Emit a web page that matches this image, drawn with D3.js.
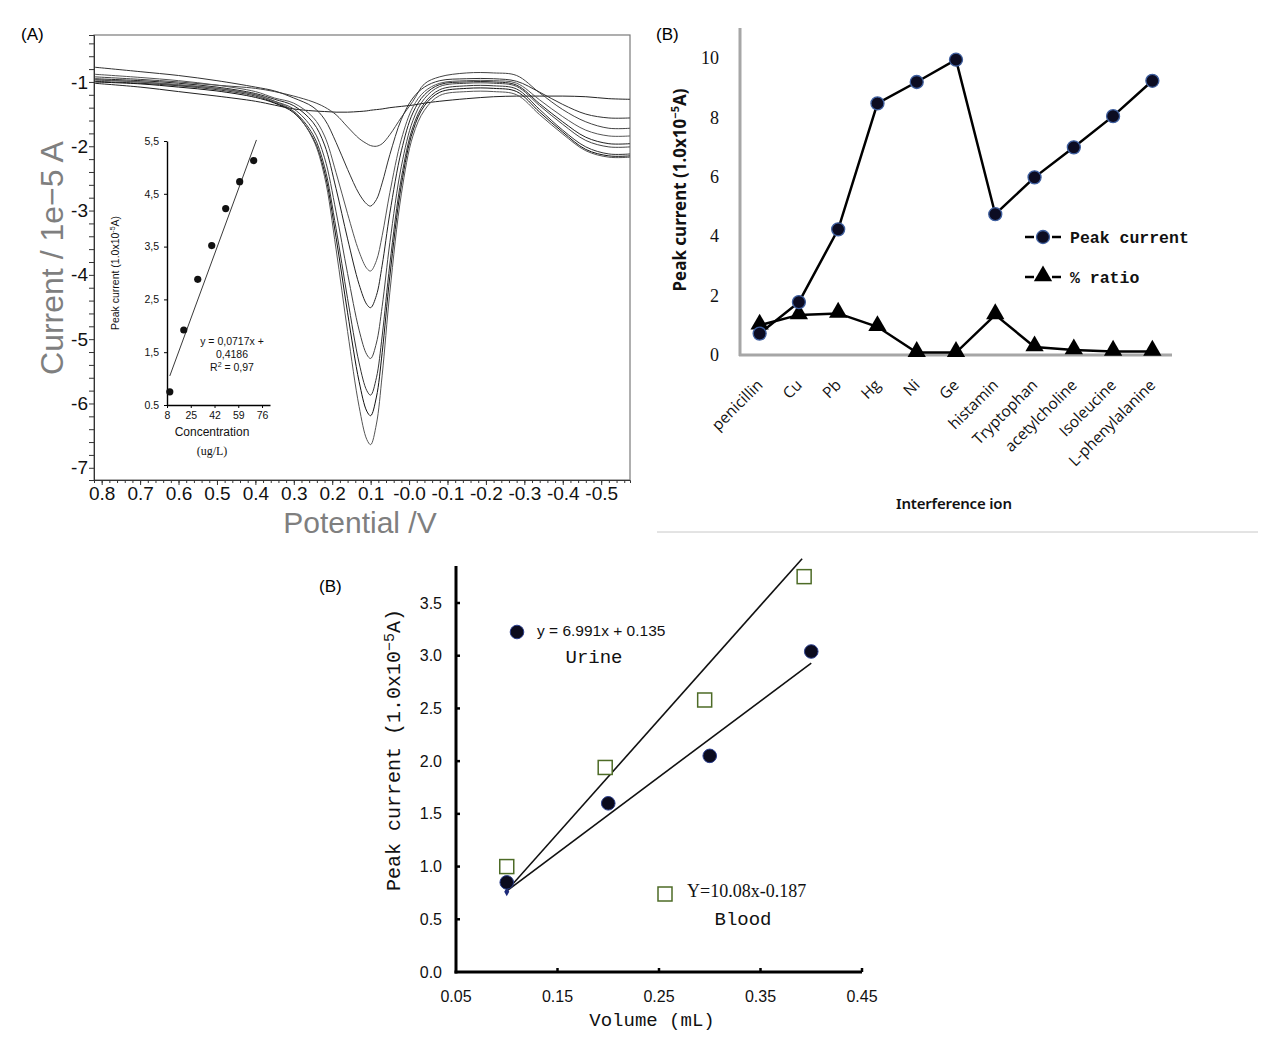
<!DOCTYPE html>
<html><head><meta charset="utf-8">
<script src="https://cdn.jsdelivr.net/npm/d3@7"></script>
<style>body{margin:0;background:#fff}</style>
</head><body><svg id="c" width="1273" height="1042" xmlns="http://www.w3.org/2000/svg"></svg>
<script>
// ---------------- DATA ----------------
// Panel A: voltammograms (potential in V, current in 1e-5 A)
const potentials = [0.82, 0.7, 0.6, 0.5, 0.4, 0.35, 0.30, 0.25, 0.22, 0.19, 0.16, 0.13, 0.11, 0.10, 0.085, 0.07, 0.05, 0.02, -0.01, -0.04, -0.08, -0.15, -0.22, -0.28, -0.34, -0.40, -0.46, -0.52, -0.575];
const curve1 = [-1.02, -1.08, -1.15, -1.22, -1.30, -1.36, -1.42, -1.45, -1.46, -1.47, -1.47, -1.46, -1.45, -1.44, -1.43, -1.42, -1.40, -1.38, -1.36, -1.33, -1.30, -1.26, -1.23, -1.22, -1.22, -1.22, -1.23, -1.26, -1.27];
const curve2 = [-0.92, -0.96, -1.0, -1.05, -1.1, -1.15, -1.22, -1.31, -1.39, -1.51, -1.70, -1.88, -1.96, -1.99, -2.0, -1.96, -1.82, -1.55, -1.30, -1.03, -0.92, -0.86, -0.86, -0.90, -1.17, -1.43, -1.62, -1.72, -1.72];
const curve3 = [-0.77, -0.84, -0.9, -0.98, -1.08, -1.14, -1.25, -1.39, -1.58, -1.94, -2.36, -2.74, -2.90, -2.93, -2.83, -2.57, -2.13, -1.58, -1.25, -1.08, -0.98, -0.95, -0.95, -0.99, -1.16, -1.35, -1.50, -1.56, -1.56];
const curve4 = [-0.88, -0.93, -0.98, -1.05, -1.15, -1.25, -1.33, -1.55, -1.84, -2.41, -3.05, -3.64, -3.90, -3.94, -3.78, -3.39, -2.72, -1.89, -1.39, -1.15, -1.02, -0.98, -0.98, -1.02, -1.28, -1.54, -1.75, -1.84, -1.84];
const curve5 = [-0.95, -0.98, -1.02, -1.08, -1.18, -1.27, -1.37, -1.63, -1.98, -2.66, -3.44, -4.15, -4.46, -4.51, -4.32, -3.85, -3.04, -2.07, -1.48, -1.20, -1.04, -1.0, -1.0, -1.05, -1.34, -1.62, -1.86, -1.96, -1.96];
const curve6 = [-0.97, -1.0, -1.05, -1.1, -1.2, -1.3, -1.42, -1.74, -2.18, -3.02, -3.98, -4.86, -5.24, -5.30, -5.06, -4.49, -3.50, -2.31, -1.60, -1.26, -1.07, -1.02, -1.02, -1.07, -1.37, -1.66, -1.91, -2.01, -2.01];
const curve7 = [-0.99, -1.02, -1.06, -1.12, -1.22, -1.32, -1.46, -1.82, -2.32, -3.28, -4.37, -5.37, -5.80, -5.87, -5.60, -4.95, -3.83, -2.49, -1.70, -1.33, -1.12, -1.06, -1.06, -1.11, -1.43, -1.75, -2.01, -2.12, -2.12];
const curve8 = [-1.0, -1.03, -1.08, -1.14, -1.24, -1.33, -1.48, -1.87, -2.40, -3.42, -4.59, -5.66, -6.12, -6.19, -5.90, -5.21, -4.02, -2.60, -1.76, -1.37, -1.16, -1.1, -1.1, -1.15, -1.47, -1.78, -2.05, -2.15, -2.15];
const curve9 = [-0.96, -1.0, -1.04, -1.1, -1.2, -1.3, -1.46, -1.89, -2.47, -3.60, -4.88, -6.05, -6.56, -6.64, -6.32, -5.56, -4.27, -2.74, -1.84, -1.44, -1.21, -1.15, -1.15, -1.2, -1.51, -1.81, -2.07, -2.17, -2.17];
const curveColors = ["#222", "#444", "#333", "#555", "#222", "#444", "#333", "#111", "#555"];
const aYTicks = [-1, -2, -3, -4, -5, -6, -7];
const aXTicks = [0.8, 0.7, 0.6, 0.5, 0.4, 0.3, 0.2, 0.1, 0.0, -0.1, -0.2, -0.3, -0.4, -0.5];
const aXTickLabels = ["0.8", "0.7", "0.6", "0.5", "0.4", "0.3", "0.2", "0.1", "-0.0", "-0.1", "-0.2", "-0.3", "-0.4", "-0.5"];

// Panel A inset: calibration
const insetConc = [10, 20, 30, 40, 50, 60, 70];
const insetPeak = [0.75, 1.92, 2.88, 3.52, 4.22, 4.73, 5.13];
const insetFit = [[10, 1.05], [72, 5.52]];
const insetXTicks = [8, 25, 42, 59, 76];
const insetYTicks = [0.5, 1.5, 2.5, 3.5, 4.5, 5.5];
const insetYTickLabels = ["0.5", "1,5", "2,5", "3,5", "4,5", "5,5"];

// Panel B (top right): interference
const ions = ["penicillin", "Cu", "Pb", "Hg", "Ni", "Ge", "histamin", "Tryptophan", "acetylcholine", "Isoleucine", "L-phenylalanine"];
const peakCurrent = [0.72, 1.78, 4.23, 8.47, 9.19, 9.94, 4.74, 5.98, 6.99, 8.04, 9.23];
const pctRatio = [1.0, 1.35, 1.4, 0.95, 0.08, 0.08, 1.35, 0.27, 0.17, 0.12, 0.12];
const bYTicks = [0, 2, 4, 6, 8, 10];

// Bottom panel: standard addition
const bloodVol = [0.1, 0.197, 0.295, 0.393];
const blood = [1.0, 1.94, 2.58, 3.75];
const urineVol = [0.1, 0.2, 0.3, 0.4];
const urine = [0.85, 1.60, 2.05, 3.04];
const bloodFit = [[0.1, 0.77], [0.391, 3.92]];
const urineFit = [[0.1, 0.77], [0.4, 2.93]];
const originPoint = [0.1, 0.76];
const cYTicks = [0, 0.5, 1.0, 1.5, 2.0, 2.5, 3.0, 3.5];
const cXTicks = [0.05, 0.15, 0.25, 0.35, 0.45];

// ---------------- DRAW ----------------
const svg = d3.select("#c");
svg.append("rect").attr("width", 1273).attr("height", 1042).attr("fill", "#fff");

// ===== Panel A =====
const xA = d3.scaleLinear().domain([0.82, -0.575]).range([94, 630]);
const yA = d3.scaleLinear().domain([-0.27, -7.19]).range([35, 480]);
const gA = svg.append("g");
gA.append("text").attr("x", 21).attr("y", 40).attr("font-family", "Liberation Sans, Arial").attr("font-size", 17).text("(A)");

gA.append("rect").attr("x", 94).attr("y", 35).attr("width", 536).attr("height", 445)
  .attr("fill", "none").attr("stroke", "#7a7a7a").attr("stroke-width", 1.2);

const curves = [curve1, curve2, curve3, curve4, curve5, curve6, curve7, curve8, curve9];
const lineA = d3.line().x(d => xA(d[0])).y(d => yA(d[1])).curve(d3.curveCatmullRom.alpha(0.5));
curves.forEach((c, i) => {
  gA.append("path").datum(potentials.map((p, j) => [p, c[j]]))
    .attr("d", lineA).attr("fill", "none").attr("stroke", curveColors[i]).attr("stroke-width", 1);
});

const yMinor = d3.range(-7.2, -0.25, 0.2).map(v => Math.round(v * 10) / 10).filter(v => v >= -7.19 && v <= -0.27);
const axAL = d3.axisLeft(yA).tickValues(yMinor).tickSize(5).tickFormat(d => aYTicks.includes(d) ? "-" + Math.abs(d) : "");
const gAy = gA.append("g").attr("transform", "translate(94,0)").call(axAL);
gAy.select(".domain").attr("stroke", "#333");
gAy.selectAll(".tick line").attr("stroke", "#333");
gAy.selectAll("text").attr("font-family", "Liberation Sans, Arial").attr("font-size", 19).attr("fill", "#111").attr("x", -6);

const xMinor = d3.range(0, 70).map(i => Math.round((0.82 - 0.02 * i) * 100) / 100).filter(v => v >= -0.575);
const axAB = d3.axisBottom(xA).tickValues(xMinor).tickSize(3).tickFormat("");
const gAxm = gA.append("g").attr("transform", "translate(0,480)").call(axAB);
gAxm.select(".domain").attr("stroke", "#333");
gAxm.selectAll(".tick line").attr("stroke", "#333");
const axAB2 = d3.axisBottom(xA).tickValues(aXTicks).tickSize(5).tickPadding(2).tickFormat((d, i) => aXTickLabels[i]);
const gAx = gA.append("g").attr("transform", "translate(0,480)").call(axAB2);
gAx.select(".domain").remove();
gAx.selectAll(".tick line").attr("stroke", "#333");
gAx.selectAll("text").attr("font-family", "Liberation Sans, Arial").attr("font-size", 19).attr("fill", "#111");

gA.append("text").attr("transform", "translate(63,258) rotate(-90)").attr("text-anchor", "middle")
  .attr("font-family", "Liberation Sans, Arial").attr("font-size", 32).attr("fill", "#7f7f7f").text("Current / 1e\u22125 A");
gA.append("text").attr("x", 360).attr("y", 533).attr("text-anchor", "middle")
  .attr("font-family", "Liberation Sans, Arial").attr("font-size", 30).attr("fill", "#7f7f7f").text("Potential /V");

// Inset
const xI = d3.scaleLinear().domain([8, 81.7]).range([167, 270]);
const yI = d3.scaleLinear().domain([0.5, 5.5]).range([405, 141]);
const gI = gA.append("g");
const axIL = d3.axisLeft(yI).tickValues(insetYTicks).tickSize(3).tickSizeOuter(0).tickPadding(5).tickFormat((d, i) => insetYTickLabels[i]);
const gIy = gI.append("g").attr("transform", "translate(167,0)").call(axIL);
gIy.selectAll("text").attr("font-family", "Liberation Sans, Arial").attr("font-size", 10.5).attr("fill", "#111");
gIy.select(".domain").attr("stroke-width", 1.4);
const axIB = d3.axisBottom(xI).tickValues(insetXTicks).tickSize(3).tickSizeOuter(0).tickPadding(4);
const gIx = gI.append("g").attr("transform", "translate(0,405)").call(axIB);
gIx.selectAll("text").attr("font-family", "Liberation Sans, Arial").attr("font-size", 10.5).attr("fill", "#111");
gIx.select(".domain").attr("stroke-width", 1.4);
gI.append("path").datum(insetFit).attr("d", d3.line().x(d => xI(d[0])).y(d => yI(d[1])))
  .attr("stroke", "#222").attr("stroke-width", 0.9).attr("fill", "none");
gI.selectAll("circle.ip").data(insetConc.map((c, i) => [c, insetPeak[i]])).join("circle")
  .attr("cx", d => xI(d[0])).attr("cy", d => yI(d[1])).attr("r", 3.6).attr("fill", "#111");
const iy = gI.append("text").attr("transform", "translate(119,273) rotate(-90)").attr("text-anchor", "middle")
  .attr("font-family", "Liberation Sans, Arial").attr("font-size", 10.5).attr("fill", "#111");
iy.append("tspan").text("Peak current (1.0x10");
iy.append("tspan").attr("font-size", 7).attr("dy", -4).text("-5");
iy.append("tspan").attr("dy", 4).text("A)");
gI.append("text").attr("x", 212).attr("y", 436).attr("text-anchor", "middle")
  .attr("font-family", "Liberation Sans, Arial").attr("font-size", 12).attr("fill", "#111").text("Concentration");
gI.append("text").attr("x", 212).attr("y", 455).attr("text-anchor", "middle")
  .attr("font-family", "Liberation Serif, Times New Roman").attr("font-size", 12).attr("fill", "#111").text("(ug/L)");
const eqs = ["y = 0,0717x +", "0,4186"];
eqs.forEach((t, i) => gI.append("text").attr("x", 232).attr("y", 345 + i * 13).attr("text-anchor", "middle")
  .attr("font-family", "Liberation Sans, Arial").attr("font-size", 10.5).attr("fill", "#111").text(t));
const r2 = gI.append("text").attr("x", 232).attr("y", 371).attr("text-anchor", "middle")
  .attr("font-family", "Liberation Sans, Arial").attr("font-size", 10.5).attr("fill", "#111");
r2.append("tspan").text("R");
r2.append("tspan").attr("font-size", 7).attr("dy", -4).text("2");
r2.append("tspan").attr("dy", 4).text(" = 0,97");

// ===== Panel B (top right) =====
const gB = svg.append("g");
gB.append("text").attr("x", 656).attr("y", 40).attr("font-family", "Liberation Sans, Arial").attr("font-size", 17).text("(B)");
const xB = d3.scaleBand().domain(ions).range([740, 1172]);
const yB = d3.scaleLinear().domain([0, 10.94]).range([355, 30]);
gB.append("line").attr("x1", 740).attr("x2", 740).attr("y1", 28).attr("y2", 356).attr("stroke", "#a6a6a6").attr("stroke-width", 3);
gB.append("line").attr("x1", 739).attr("x2", 1172).attr("y1", 355).attr("y2", 355).attr("stroke", "#a6a6a6").attr("stroke-width", 3);
gB.selectAll("text.yt").data(bYTicks).join("text").attr("class", "yt")
  .attr("x", 719).attr("y", d => yB(d)).attr("dy", "0.35em").attr("text-anchor", "end")
  .attr("font-family", "Liberation Serif, Times New Roman").attr("font-size", 18).attr("fill", "#111").text(d => d);
const cx = d => xB(d) + xB.bandwidth() / 2;
gB.selectAll("text.xl").data(ions).join("text").attr("class", "xl")
  .attr("transform", d => `translate(${cx(d) + 4},386) rotate(-45)`).attr("text-anchor", "end")
  .attr("font-family", "Open Sans, Noto Sans").attr("font-size", 15.5).attr("fill", "#111").text(d => d);
const lineB = d3.line().x(d => cx(d[0])).y(d => yB(d[1]));
gB.append("path").datum(ions.map((d, i) => [d, peakCurrent[i]])).attr("d", lineB)
  .attr("fill", "none").attr("stroke", "#000").attr("stroke-width", 2.5);
gB.append("path").datum(ions.map((d, i) => [d, pctRatio[i]])).attr("d", lineB)
  .attr("fill", "none").attr("stroke", "#000").attr("stroke-width", 2.5);
const tri = d3.symbol().type(d3.symbolTriangle).size(145);
gB.selectAll("path.tr").data(ions.map((d, i) => [d, pctRatio[i]])).join("path").attr("class", "tr")
  .attr("d", tri).attr("transform", d => `translate(${cx(d[0])},${yB(d[1]) - 1})`).attr("fill", "#000");
gB.selectAll("circle.pc").data(ions.map((d, i) => [d, peakCurrent[i]])).join("circle").attr("class", "pc")
  .attr("cx", d => cx(d[0])).attr("cy", d => yB(d[1])).attr("r", 6.5)
  .attr("fill", "#0c0c22").attr("stroke", "#3f5f9f").attr("stroke-width", 1.3);
const by = gB.append("text").attr("transform", "translate(686,190) rotate(-90)").attr("text-anchor", "middle")
  .attr("font-family", "Noto Sans, Open Sans").attr("font-weight", "bold").attr("font-size", 17).attr("fill", "#111");
by.append("tspan").text("Peak current (1.0x10");
by.append("tspan").attr("font-size", 11).attr("dy", -7).text("\u22125");
by.append("tspan").attr("dy", 7).text("A)");
gB.append("text").attr("x", 954).attr("y", 509).attr("text-anchor", "middle")
  .attr("font-family", "Noto Sans, Open Sans").attr("font-weight", 600).attr("font-size", 15)
  .attr("textLength", 116).attr("fill", "#111").text("Interference ion");
// legend
[[237, "circle", "Peak current"], [277, "tri", "% ratio"]].forEach(([y, m, t]) => {
  gB.append("line").attr("x1", 1025).attr("x2", 1034).attr("y1", y).attr("y2", y).attr("stroke", "#000").attr("stroke-width", 2.5);
  gB.append("line").attr("x1", 1052).attr("x2", 1061).attr("y1", y).attr("y2", y).attr("stroke", "#000").attr("stroke-width", 2.5);
  if (m === "circle") gB.append("circle").attr("cx", 1043).attr("cy", y).attr("r", 6.5).attr("fill", "#0c0c22").attr("stroke", "#3f5f9f").attr("stroke-width", 1.3);
  else gB.append("path").attr("d", tri).attr("transform", `translate(1043,${y - 1})`).attr("fill", "#000");
  gB.append("text").attr("x", 1070).attr("y", y).attr("dy", "0.35em").attr("font-family", "Liberation Mono, DejaVu Sans Mono")
    .attr("font-size", 16.5).attr("font-weight", "bold").attr("fill", "#111").text(t);
});

// separator
svg.append("line").attr("x1", 657).attr("x2", 1258).attr("y1", 532).attr("y2", 532).attr("stroke", "#c8c8c8").attr("stroke-width", 1);

// ===== Bottom panel =====
const gC = svg.append("g");
gC.append("text").attr("x", 319).attr("y", 592).attr("font-family", "Liberation Sans, Arial").attr("font-size", 17).text("(B)");
const xC = d3.scaleLinear().domain([0.05, 0.45]).range([456, 862]);
const yC = d3.scaleLinear().domain([0, 3.5]).range([972, 603]);
gC.append("line").attr("x1", 456).attr("x2", 456).attr("y1", 566).attr("y2", 973.5).attr("stroke", "#000").attr("stroke-width", 3);
gC.append("line").attr("x1", 454.5).attr("x2", 862).attr("y1", 972).attr("y2", 972).attr("stroke", "#000").attr("stroke-width", 3);
gC.selectAll("line.yt").data(cYTicks.slice(1)).join("line").attr("class", "yt")
  .attr("x1", 456).attr("x2", 460).attr("y1", d => yC(d)).attr("y2", d => yC(d)).attr("stroke", "#000").attr("stroke-width", 2.5);
gC.selectAll("line.xt").data(cXTicks.slice(1)).join("line").attr("class", "xt")
  .attr("x1", d => xC(d)).attr("x2", d => xC(d)).attr("y1", 972).attr("y2", 968).attr("stroke", "#000").attr("stroke-width", 2.5);
gC.selectAll("text.yl").data(cYTicks).join("text").attr("class", "yl")
  .attr("x", 442).attr("y", d => yC(d)).attr("dy", "0.35em").attr("text-anchor", "end")
  .attr("font-family", "Liberation Sans, Arial").attr("font-size", 16).attr("fill", "#111").text(d => d3.format(".1f")(d));
gC.selectAll("text.xl").data(cXTicks).join("text").attr("class", "xl")
  .attr("x", d => xC(d)).attr("y", 996).attr("dy", "0.35em").attr("text-anchor", "middle")
  .attr("font-family", "Liberation Sans, Arial").attr("font-size", 16).attr("fill", "#111").text(d => d3.format(".2f")(d));
const cy = gC.append("text").attr("transform", "translate(400,750) rotate(-90)").attr("text-anchor", "middle")
  .attr("font-family", "Liberation Mono, Courier New").attr("font-size", 20).attr("fill", "#111");
cy.append("tspan").text("Peak current (1.0x10");
cy.append("tspan").attr("font-size", 15).attr("dy", -6).text("\u22125");
cy.append("tspan").attr("dy", 6).text("A)");
gC.append("text").attr("x", 652).attr("y", 1026).attr("text-anchor", "middle")
  .attr("font-family", "Liberation Mono, Courier New").attr("font-size", 19).attr("fill", "#111").text("Volume (mL)");

const lineC = d3.line().x(d => xC(d[0])).y(d => yC(d[1]));
gC.append("path").datum(bloodFit).attr("d", lineC).attr("stroke", "#111").attr("stroke-width", 1.6).attr("fill", "none");
gC.append("path").datum(urineFit).attr("d", lineC).attr("stroke", "#111").attr("stroke-width", 1.6).attr("fill", "none");
gC.append("path").attr("d", d3.symbol().type(d3.symbolDiamond).size(22))
  .attr("transform", `translate(${xC(originPoint[0])},${yC(originPoint[1])})`).attr("fill", "#1c2a7a");
gC.selectAll("circle.u").data(urineVol.map((v, i) => [v, urine[i]])).join("circle").attr("class", "u")
  .attr("cx", d => xC(d[0])).attr("cy", d => yC(d[1])).attr("r", 6.8)
  .attr("fill", "#0b0b1e").attr("stroke", "#2b3f8f").attr("stroke-width", 1);
gC.selectAll("rect.b").data(bloodVol.map((v, i) => [v, blood[i]])).join("rect").attr("class", "b")
  .attr("x", d => xC(d[0]) - 7).attr("y", d => yC(d[1]) - 7).attr("width", 14).attr("height", 14)
  .attr("fill", "#fff").attr("stroke", "#4d6b26").attr("stroke-width", 1.5);
// annotations
gC.append("circle").attr("cx", 517).attr("cy", 632).attr("r", 6.8).attr("fill", "#0b0b1e").attr("stroke", "#2b3f8f").attr("stroke-width", 1);
gC.append("text").attr("x", 537).attr("y", 631).attr("dy", "0.35em").attr("font-family", "Liberation Sans, Arial")
  .attr("font-size", 15.5).attr("fill", "#111").text("y = 6.991x + 0.135");
gC.append("text").attr("x", 594).attr("y", 656).attr("dy", "0.35em").attr("text-anchor", "middle")
  .attr("font-family", "Liberation Mono, Courier New").attr("font-size", 19).attr("fill", "#111").text("Urine");
gC.append("rect").attr("x", 658).attr("y", 887).attr("width", 14).attr("height", 14)
  .attr("fill", "#fff").attr("stroke", "#4d6b26").attr("stroke-width", 1.5);
gC.append("text").attr("x", 687).attr("y", 891).attr("dy", "0.35em").attr("font-family", "Liberation Serif, Times New Roman")
  .attr("font-size", 18).attr("fill", "#111").text("Y=10.08x-0.187");
gC.append("text").attr("x", 743).attr("y", 918).attr("dy", "0.35em").attr("text-anchor", "middle")
  .attr("font-family", "Liberation Mono, Courier New").attr("font-size", 19).attr("fill", "#111").text("Blood");
</script></body></html>
